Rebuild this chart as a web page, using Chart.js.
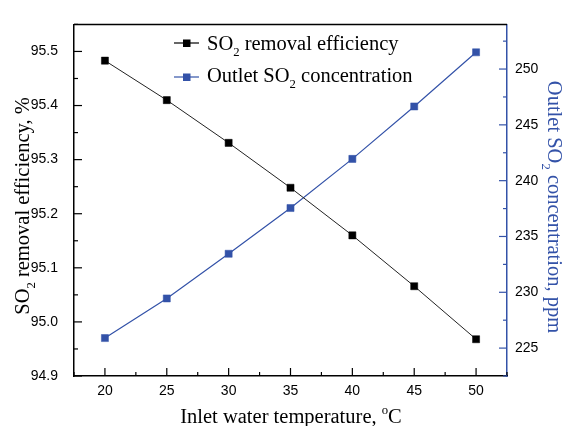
<!DOCTYPE html>
<html>
<head>
<meta charset="utf-8">
<script src="https://cdn.jsdelivr.net/npm/chart.js@4.4.1/dist/chart.umd.min.js"></script>
<style>
  html, body { margin: 0; padding: 0; background: #fff; }
</style>
</head>
<body>
<canvas id="chart" width="566" height="426"></canvas>
<script>
// data
const temperatures = [20, 25, 30, 35, 40, 45, 50];
const removalEfficiency = [95.483, 95.41, 95.331, 95.248, 95.16, 95.066, 94.968];
const outletConcentration = [225.9, 229.45, 233.45, 237.55, 241.95, 246.65, 251.5];

const xTicks = [20, 25, 30, 35, 40, 45, 50];
const effTicks = [94.9, 95.0, 95.1, 95.2, 95.3, 95.4, 95.5];
const concTicks = [225, 230, 235, 240, 245, 250];

const BLACK = '#000';
const BLUE = '#3352a8';
const SERIF = '"Liberation Serif", "Times New Roman", serif';
const SANS = '"Liberation Sans", Arial, sans-serif';

// half-way minor ticks, plus one step beyond each end (clipped to the axis range later)
function minors(major) {
  const step = major[1] - major[0];
  const out = [major[0] - step / 2];
  major.forEach(v => out.push(v + step / 2));
  return out;
}

function fontFor(mode, size) {
  const s = mode ? size * 0.62 : size;
  return `${s}px ${SERIF}`;
}

function richWidth(ctx, parts, size) {
  let w = 0;
  for (const [t, m] of parts) {
    ctx.font = fontFor(m, size);
    w += ctx.measureText(t).width;
  }
  return w;
}

function drawRich(ctx, parts, x, y, size, color) {
  ctx.fillStyle = color;
  ctx.textAlign = 'left';
  ctx.textBaseline = 'alphabetic';
  for (const [t, m] of parts) {
    ctx.font = fontFor(m, size);
    const dy = m === 'sub' ? size * 0.3 : m === 'sup' ? -size * 0.42 : 0;
    ctx.fillText(t, x, y + dy);
    x += ctx.measureText(t).width;
  }
}

const leftTitle = [['SO', ''], ['2', 'sub'], [' removal efficiency, %', '']];
const rightTitle = [['Outlet SO', ''], ['2', 'sub'], [' concentration, ppm', '']];
const bottomTitle = [['Inlet water temperature, ', ''], ['o', 'sup'], ['C', '']];
const legendRows = [
  { parts: [['SO', ''], ['2', 'sub'], [' removal efficiency', '']], color: BLACK, y: 43, base: 50 },
  { parts: [['Outlet SO', ''], ['2', 'sub'], [' concentration', '']], color: BLUE, y: 77, base: 82 }
];

const decorPlugin = {
  id: 'decor',
  afterDraw(chart) {
    const { ctx, chartArea: a, scales } = chart;
    ctx.save();

    // top frame
    ctx.strokeStyle = BLACK;
    ctx.lineWidth = 1.5;
    ctx.beginPath();
    ctx.moveTo(a.left, a.top);
    ctx.lineTo(a.right, a.top);
    ctx.stroke();

    // inward tick marks
    ctx.lineWidth = 1.2;
    const tickSet = (scale, vals, len, fn) => vals
      .filter(v => v >= scale.min - 1e-9 && v <= scale.max + 1e-9)
      .forEach(v => fn(v, len));
    const xTick = (v, len) => {
      const px = scales.x.getPixelForValue(v);
      ctx.beginPath(); ctx.moveTo(px, a.bottom); ctx.lineTo(px, a.bottom - len); ctx.stroke();
    };
    const yTick = (v, len) => {
      const py = scales.y.getPixelForValue(v);
      ctx.beginPath(); ctx.moveTo(a.left, py); ctx.lineTo(a.left + len, py); ctx.stroke();
    };
    const y1Tick = (v, len) => {
      const py = scales.y1.getPixelForValue(v);
      ctx.beginPath(); ctx.moveTo(a.right, py); ctx.lineTo(a.right - len, py); ctx.stroke();
    };
    ctx.strokeStyle = BLACK;
    tickSet(scales.x, xTicks, 8, xTick);
    tickSet(scales.x, minors(xTicks), 4, xTick);
    tickSet(scales.y, effTicks, 8, yTick);
    tickSet(scales.y, minors(effTicks), 4, yTick);
    ctx.strokeStyle = BLUE;
    tickSet(scales.y1, concTicks, 8, y1Tick);
    tickSet(scales.y1, minors(concTicks), 4, y1Tick);

    const size = 20.5;

    // left title
    ctx.save();
    ctx.translate(29, 206);
    ctx.rotate(-Math.PI / 2);
    drawRich(ctx, leftTitle, -richWidth(ctx, leftTitle, size) / 2, 0, size, BLACK);
    ctx.restore();

    // right title
    ctx.save();
    ctx.translate(548, 207);
    ctx.rotate(Math.PI / 2);
    drawRich(ctx, rightTitle, -richWidth(ctx, rightTitle, size) / 2, 0, size, BLUE);
    ctx.restore();

    // bottom title
    drawRich(ctx, bottomTitle, 291 - richWidth(ctx, bottomTitle, size) / 2, 423, size, BLACK);

    // legend
    legendRows.forEach(row => {
      ctx.strokeStyle = row.color;
      ctx.lineWidth = 1.2;
      ctx.beginPath(); ctx.moveTo(174, row.y); ctx.lineTo(199, row.y); ctx.stroke();
      ctx.fillStyle = row.color;
      ctx.fillRect(183, row.y - 3.5, 7.5, 7.5);
      drawRich(ctx, row.parts, 207, row.base, size, BLACK);
    });

    ctx.restore();
  }
};

const fixed = (vals) => (scale) => { scale.ticks = vals.map(v => ({ value: v })); };

new Chart(document.getElementById('chart'), {
  type: 'line',
  data: {
    datasets: [
      {
        label: 'SO2 removal efficiency',
        data: temperatures.map((t, i) => ({ x: t, y: removalEfficiency[i] })),
        yAxisID: 'y',
        borderColor: '#222',
        borderWidth: 1,
        pointStyle: 'rect',
        pointRadius: 5,
        pointBackgroundColor: BLACK,
        pointBorderColor: BLACK,
        pointBorderWidth: 0.5,
        tension: 0
      },
      {
        label: 'Outlet SO2 concentration',
        data: temperatures.map((t, i) => ({ x: t, y: outletConcentration[i] })),
        yAxisID: 'y1',
        borderColor: BLUE,
        borderWidth: 1.2,
        pointStyle: 'rect',
        pointRadius: 5,
        pointBackgroundColor: BLUE,
        pointBorderColor: BLUE,
        pointBorderWidth: 0.5,
        tension: 0
      }
    ]
  },
  options: {
    responsive: false,
    animation: false,
    devicePixelRatio: 1,
    layout: { padding: { top: 14, left: 0, right: 0, bottom: 0 } },
    plugins: { legend: { display: false }, tooltip: { enabled: false } },
    scales: {
      x: {
        type: 'linear',
        min: 17.5,
        max: 52.5,
        afterBuildTicks: fixed(xTicks),
        afterFit: s => { s.height = 50; },
        grid: { display: false, drawTicks: false },
        border: { display: true, color: BLACK, width: 1.5 },
        ticks: { padding: 7, color: BLACK, font: { family: SANS, size: 14 } }
      },
      y: {
        position: 'left',
        min: 94.9,
        max: 95.55,
        afterBuildTicks: fixed(effTicks),
        afterFit: s => { s.width = 74; },
        grid: { display: false, drawTicks: false },
        border: { display: true, color: BLACK, width: 1.5 },
        ticks: {
          padding: 16, color: BLACK,
          font: { family: '"Liberation Sans Narrow", "Liberation Sans", Arial, sans-serif', size: 14 },
          callback: v => v.toFixed(1)
        }
      },
      y1: {
        position: 'right',
        min: 222.5,
        max: 254,
        afterBuildTicks: fixed(concTicks),
        afterFit: s => { s.width = 59; },
        grid: { display: false, drawTicks: false },
        border: { display: true, color: BLUE, width: 1.5 },
        ticks: { padding: 8, color: BLACK, font: { family: SANS, size: 14 } }
      }
    }
  },
  plugins: [decorPlugin]
});
</script>
</body>
</html>
